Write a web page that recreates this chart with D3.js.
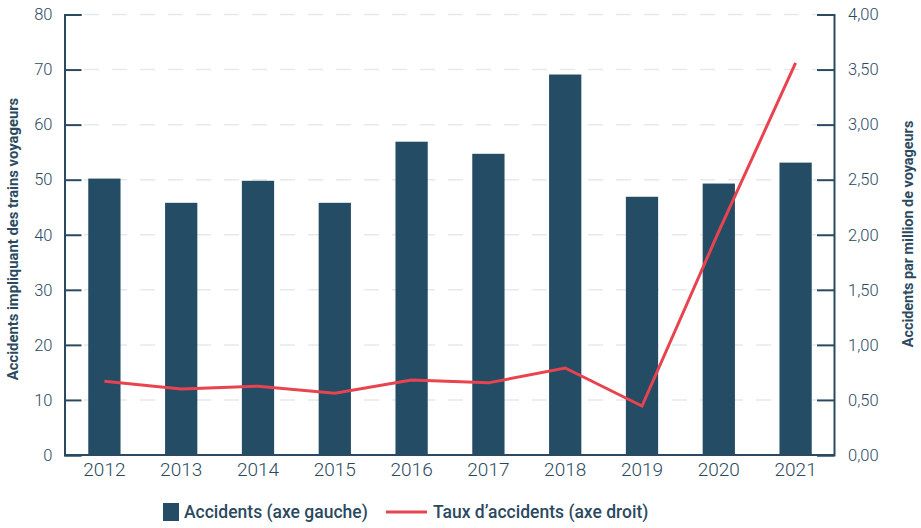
<!DOCTYPE html>
<html>
<head>
<meta charset="utf-8">
<script src="https://cdn.jsdelivr.net/npm/d3@7"></script>
<style>
  body { margin: 0; background: #fff; }
  svg { display: block; font-family: Roboto, "Noto Sans", sans-serif; }
</style>
</head>
<body>
<svg id="chart" width="921" height="528"></svg>
<script>
// data
var years = ["2012", "2013", "2014", "2015", "2016", "2017", "2018", "2019", "2020", "2021"];
var accidents = [50.2, 45.8, 49.8, 45.8, 56.9, 54.7, 69.1, 46.9, 49.3, 53.1];
var taux = [0.67, 0.6, 0.625, 0.56, 0.68, 0.655, 0.79, 0.445, 2.03, 3.56];
var leftTicks = [0, 10, 20, 30, 40, 50, 60, 70, 80];
var rightTicks = [0, 0.5, 1, 1.5, 2, 2.5, 3, 3.5, 4];

var barColor = "#244c64";
var lineColor = "#e8434f";
var ink = "#2b4a61";

var svg = d3.select("#chart");
var plotLeft = 64.5, plotRight = 834, plotTop = 14.5, plotBottom = 455;

var x = d3.scaleBand().domain(years).range([66, 834])
  .paddingInner(0.58).paddingOuter(0.29);
var yL = d3.scaleLinear().domain([0, 80]).range([plotBottom, plotTop]);
var yR = d3.scaleLinear().domain([0, 4]).range([plotBottom, plotTop]);

// dashed grid
svg.append("g")
  .selectAll("line")
  .data(leftTicks.filter(function (d) { return d > 0; }))
  .join("line")
  .attr("x1", 84).attr("x2", 817)
  .attr("y1", function (d) { return yL(d); })
  .attr("y2", function (d) { return yL(d); })
  .attr("stroke", "#e6e9eb")
  .attr("stroke-width", 1.5)
  .attr("stroke-dasharray", "15,13");

// bars
svg.append("g")
  .selectAll("rect")
  .data(accidents)
  .join("rect")
  .attr("x", function (d, i) { return x(years[i]); })
  .attr("y", function (d) { return yL(d); })
  .attr("width", x.bandwidth())
  .attr("height", function (d) { return plotBottom - yL(d); })
  .attr("fill", barColor);

// line
var line = d3.line()
  .x(function (d, i) { return x(years[i]) + x.bandwidth() / 2; })
  .y(function (d) { return yR(d); });

svg.append("path")
  .datum(taux)
  .attr("d", line)
  .attr("fill", "none")
  .attr("stroke", lineColor)
  .attr("stroke-width", 3);

// axes
var axisL = svg.append("g")
  .attr("transform", "translate(" + plotLeft + ",0)")
  .call(d3.axisRight(yL).tickValues(leftTicks).tickSize(17).tickFormat(d3.format("d")));
axisL.selectAll("text").attr("x", -12).attr("text-anchor", "end");

var fr = d3.formatLocale({ decimal: ",", thousands: " ", grouping: [3], currency: ["", " €"] });
var axisR = svg.append("g")
  .attr("transform", "translate(" + plotRight + ",0)")
  .call(d3.axisLeft(yR).tickValues(rightTicks).tickSize(17).tickFormat(fr.format(".2f")));
axisR.selectAll("text").attr("x", 14).attr("text-anchor", "start");

var axisX = svg.append("g")
  .attr("transform", "translate(0," + plotBottom + ")")
  .call(d3.axisBottom(x).tickSize(0).tickPadding(8));
axisX.select(".domain").attr("d", "M" + plotLeft + ",0H" + plotRight);

[axisL, axisR, axisX].forEach(function (a) {
  a.selectAll(".domain").attr("stroke", ink).attr("stroke-width", 2);
  a.selectAll(".tick line").attr("stroke", ink).attr("stroke-width", 2);
  a.selectAll("text")
    .attr("fill", ink)
    .attr("font-family", "Roboto, sans-serif")
    .attr("font-size", 16.5)
    .attr("font-weight", 300);
});
axisX.selectAll("text").attr("font-size", 19);

// axis titles
svg.append("text")
  .attr("transform", "translate(18,239) rotate(-90)")
  .attr("text-anchor", "middle")
  .attr("fill", ink)
  .attr("font-size", 14.8)
  .attr("font-weight", 700)
  .text("Accidents impliquant des trains voyageurs");

svg.append("text")
  .attr("transform", "translate(913,234) rotate(-90)")
  .attr("text-anchor", "middle")
  .attr("fill", ink)
  .attr("font-size", 14.4)
  .attr("font-weight", 700)
  .text("Accidents par million de voyageurs");

// legend
var lg = svg.append("g").attr("font-size", 17.5).attr("font-weight", 500).attr("fill", ink);
lg.append("rect").attr("x", 163).attr("y", 503).attr("width", 16).attr("height", 18).attr("fill", barColor);
lg.append("text").attr("x", 184).attr("y", 518).attr("fill", ink).text("Accidents (axe gauche)");
lg.append("line").attr("x1", 386).attr("x2", 427).attr("y1", 512).attr("y2", 512)
  .attr("stroke", lineColor).attr("stroke-width", 3);
lg.append("text").attr("x", 433).attr("y", 518).attr("fill", ink).text("Taux d’accidents (axe droit)");
</script>
</body>
</html>
